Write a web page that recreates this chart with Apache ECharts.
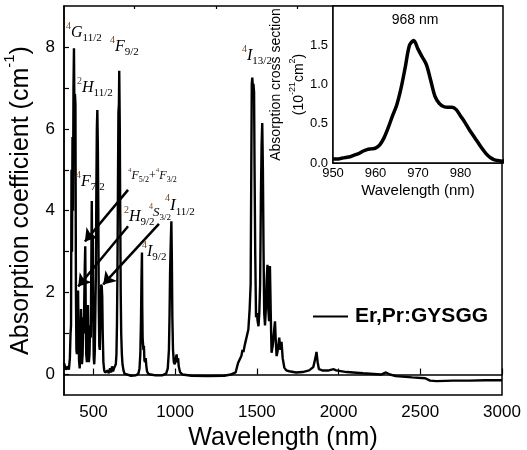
<!DOCTYPE html>
<html>
<head>
<meta charset="utf-8">
<script src="https://cdn.jsdelivr.net/npm/echarts@6/dist/echarts.min.js"></script>
<style>
html, body { margin: 0; padding: 0; background: #fff; }
#chart { width: 527px; height: 450px; }
</style>
</head>
<body>
<div id="chart"></div>
<script>
// main spectrum: [wavelength (nm), absorption coefficient (cm-1)]
const spectrum = [
    [320, 0.28], [326, 0.25], [332, 0.12], [338, 0.1], [344, 0.2], [350, 0.12], [356, 0.4], [360, 1.0],
    [363, 1.2], [366, 5.0], [369, 3.0], [372, 5.8], [375, 4.0], [378, 7.0], [381, 7.97], [384, 6.2],
    [387, 6.85], [390, 6.6], [393, 2.0], [396, 0.6], [399, 0.5], [403, 1.4], [406, 2.05], [409, 1.1],
    [412, 0.35], [416, 0.15], [420, 0.5], [424, 1.6], [427, 0.9], [430, 0.25], [434, 0.5], [438, 1.4],
    [441, 1.0], [444, 1.8], [447, 2.6], [450, 3.13], [453, 1.6], [456, 0.5], [460, 0.3], [463, 1.1],
    [466, 1.7], [469, 0.8], [472, 0.3], [476, 0.5], [480, 1.2], [484, 0.9], [487, 2.6], [490, 4.24],
    [493, 2.5], [496, 3.4], [499, 1.5], [502, 0.4], [505, 0.25], [508, 0.5], [512, 1.6], [515, 2.4],
    [518, 4.5], [521, 6.0], [524, 6.46], [527, 5.6], [530, 4.0], [533, 1.6], [536, 0.7], [539, 0.6],
    [542, 1.2], [545, 1.7], [548, 2.2], [551, 2.15], [554, 1.9], [557, 1.0], [561, 0.3], [566, 0.1],
    [572, 0.05], [580, 0.03], [588, 0.1], [594, 0.03], [602, 0.15], [608, 0.05], [614, 0.2], [620, 0.08],
    [626, 0.15], [632, 0.12], [637, 0.25], [641, 0.5], [644, 1.2], [647, 2.5], [650, 4.5], [653, 6.4],
    [656, 6.6], [658, 7.42], [661, 6.2], [664, 4.0], [667, 2.0], [670, 1.0], [674, 0.5], [678, 0.25],
    [684, 0.1], [690, 0.02], [700, -0.02], [730, -0.03], [760, -0.02], [775, 0.02], [782, 0.15],
    [787, 0.5], [791, 1.3], [794, 2.3], [797, 2.98], [799, 1.6], [801, 0.9], [803, 0.78], [806, 0.6],
    [809, 0.7], [812, 0.35], [816, 0.3], [820, 0.4], [824, 0.2], [828, 0.08], [835, 0.02], [850, 0.0],
    [880, -0.02], [920, -0.02], [945, 0.02], [955, 0.15], [962, 0.6], [966, 1.5], [969, 2.48],
    [973, 3.2], [977, 3.74], [980, 2.8], [983, 1.4], [987, 0.6], [992, 0.3], [998, 0.25], [1004, 0.4],
    [1009, 0.49], [1013, 0.3], [1018, 0.4], [1022, 0.2], [1030, 0.06], [1045, 0.0], [1100, -0.03],
    [1200, -0.04], [1300, -0.03], [1340, 0.0], [1370, 0.05], [1385, 0.28], [1395, 0.3], [1405, 0.45],
    [1412, 0.6], [1418, 0.55], [1425, 0.7], [1436, 0.7], [1448, 1.1], [1456, 1.6], [1462, 2.2],
    [1466, 5.0], [1469, 7.1], [1472, 7.25], [1476, 7.0], [1479, 7.1], [1483, 6.9], [1486, 5.0],
    [1490, 3.0], [1495, 1.4], [1500, 1.5], [1505, 1.3], [1510, 1.18], [1515, 1.5], [1520, 2.2],
    [1525, 4.4], [1529, 5.6], [1533, 6.14], [1537, 5.0], [1541, 3.0], [1545, 1.5], [1550, 1.2],
    [1555, 1.6], [1560, 2.3], [1565, 2.68], [1570, 1.6], [1575, 1.3], [1580, 2.65], [1585, 1.5],
    [1590, 0.53], [1597, 0.7], [1604, 1.0], [1611, 1.3], [1616, 0.8], [1621, 0.45], [1628, 0.6],
    [1637, 0.9], [1644, 0.6], [1651, 0.8], [1658, 0.4], [1668, 0.17], [1680, 0.1], [1698, 0.08],
    [1740, 0.05], [1780, 0.06], [1820, 0.1], [1845, 0.18], [1858, 0.4], [1865, 0.55], [1872, 0.3],
    [1880, 0.13], [1900, 0.1], [1940, 0.1], [1970, 0.13], [1985, 0.1], [2050, 0.06], [2150, 0.03],
    [2260, 0.0], [2290, 0.05], [2300, 0.07], [2315, 0.0], [2350, -0.04], [2450, -0.07], [2530, -0.09],
    [2560, -0.15], [2600, -0.16], [2700, -0.15], [2800, -0.15], [2900, -0.14], [3000, -0.14]
];

// inset: absorption cross section around 968 nm
const insetWl = [950, 951, 952, 953, 954, 955, 956, 957, 958, 959, 960, 961, 962, 963, 964, 965, 966,
    967, 968, 969, 970, 971, 972, 973, 974, 975, 976, 977, 978, 979, 980, 981, 982, 983, 984, 985,
    986, 987, 988, 989, 990];
const insetCs = [0.05, 0.05, 0.06, 0.07, 0.08, 0.10, 0.12, 0.15, 0.17, 0.18, 0.19, 0.23, 0.32, 0.45,
    0.60, 0.74, 0.95, 1.22, 1.50, 1.56, 1.45, 1.35, 1.25, 1.05, 0.85, 0.76, 0.72, 0.71, 0.71, 0.68,
    0.60, 0.52, 0.43, 0.35, 0.27, 0.19, 0.12, 0.07, 0.04, 0.03, 0.02];

const xLabels = [500, 1000, 1500, 2000, 2500, 3000];
const xMinor = [750, 1250, 1750, 2250, 2750];
const yLabels = [0, 2, 4, 6, 8];
const yTicks = [0, 1, 2, 3, 4, 5, 6, 7, 8];
const insetYLabels = [0, 0.5, 1, 1.5];

// arrows from level labels to peaks, [from, to] in data units
const arrows = [
    [[712, 4.51], [448, 3.25]],
    [[712, 3.62], [407, 2.15]],
    [[901, 3.68], [560, 2.2]]
];

const sans = 'Liberation Sans, Arial, sans-serif';
const serif = '"Liberation Serif", "Times New Roman", serif';
const brown = '#6e4426';

let chart = echarts.init(document.getElementById('chart'));

// term symbol label: sup, letter, sub ; a part '+' is drawn plain
function level(x, y, parts, size) {
    let s = size || 16;
    let lh = Math.round(s * 1.45);
    let text = parts.map(function (p) {
        if (p === '+') return '{n|+}';
        return '{p|' + p[0] + '}{m|' + p[1] + '}{b|' + p[2] + '}';
    }).join('');
    return {
        type: 'text', x: x, y: y, z: 100,
        style: {
            text: text,
            verticalAlign: 'top',
            align: 'left',
            rich: {
                p: { font: Math.round(s * 0.6) + 'px ' + serif, fill: brown, verticalAlign: 'top', lineHeight: lh },
                m: { font: 'italic ' + s + 'px ' + serif, fill: '#000', verticalAlign: 'middle', lineHeight: lh },
                b: { font: Math.round(s * 0.66) + 'px ' + serif, fill: '#000', verticalAlign: 'bottom', lineHeight: lh },
                n: { font: s + 'px ' + serif, fill: '#000', verticalAlign: 'middle', lineHeight: lh }
            }
        }
    };
}

let option = {
    animation: false,
    backgroundColor: '#fff',
    grid: [
        { left: 64, top: 6, right: 25, bottom: 55, outerBoundsMode: 'none', containLabel: false, show: true, borderColor: '#000', borderWidth: 1.5 },
        { left: 333, top: 6, right: 24, bottom: 287, outerBoundsMode: 'none', containLabel: false, show: true, borderColor: '#000', borderWidth: 1.5, backgroundColor: '#fff', z: 5 }
    ],
    legend: {
        data: [{ name: 'Er,Pr:GYSGG', icon: 'rect' }],
        left: 313, top: 306, padding: 0,
        itemWidth: 35, itemHeight: 2,
        textStyle: { fontFamily: sans, fontSize: 21, fontWeight: 'bold', color: '#000', padding: [0, 0, 0, 2] }
    },
    xAxis: [
        {
            type: 'value', gridIndex: 0, min: 320, max: 3000,
            name: 'Wavelength (nm)', nameLocation: 'middle', nameGap: 28,
            nameTextStyle: { fontFamily: sans, fontSize: 25, color: '#000' },
            axisLine: { lineStyle: { color: '#000', width: 1.5 } },
            axisTick: { inside: true, length: 6, customValues: xLabels, lineStyle: { color: '#000', width: 1.2 } },
            axisLabel: {
                customValues: xLabels, margin: 9, fontFamily: sans, fontSize: 17, color: '#000',
                formatter: function (v) { return String(v); }
            },
            splitLine: { show: false }
        },
        {
            type: 'value', gridIndex: 0, min: 320, max: 3000,
            axisLine: { show: false },
            axisTick: { inside: true, length: 3, customValues: xMinor, lineStyle: { color: '#000', width: 1.2 } },
            axisLabel: { show: false },
            splitLine: { show: false }
        },
        {
            type: 'value', gridIndex: 1, min: 950, max: 990, interval: 10,
            name: 'Wavelength (nm)', nameLocation: 'middle', nameGap: 20,
            nameTextStyle: { fontFamily: sans, fontSize: 15, color: '#000' },
            axisLine: { lineStyle: { color: '#000', width: 1.5 } },
            axisTick: { inside: true, length: 4, lineStyle: { color: '#000' } },
            axisLabel: {
                margin: 4, fontFamily: sans, fontSize: 13, color: '#000',
                formatter: function (v) { return v === 990 ? '' : String(v); }
            },
            splitLine: { show: false }
        }
    ],
    yAxis: [
        {
            type: 'value', gridIndex: 0, min: -0.5, max: 9,
            name: '{a|Absorption coefficient (cm}{s|-1}{a|)}', nameLocation: 'middle', nameGap: 30,
            nameTextStyle: {
                rich: {
                    a: { fontFamily: sans, fontSize: 25, color: '#000', verticalAlign: 'bottom', lineHeight: 32 },
                    s: { fontFamily: sans, fontSize: 15, color: '#000', verticalAlign: 'top', lineHeight: 32 }
                }
            },
            axisLine: { lineStyle: { color: '#000', width: 1.5 } },
            axisTick: { inside: true, length: 5, customValues: yTicks, lineStyle: { color: '#000', width: 1.2 } },
            axisLabel: { customValues: yLabels, margin: 9, fontFamily: sans, fontSize: 17, color: '#000' },
            splitLine: { show: false }
        },
        {
            type: 'value', gridIndex: 1, min: 0, max: 2,
            name: '{a|Absorption cross section}\n{c|(10}{s|-21}{c|cm}{s|2}{c|)}',
            nameLocation: 'middle', nameGap: 22,
            nameTextStyle: {
                rich: {
                    a: { fontFamily: sans, fontSize: 14, color: '#000', verticalAlign: 'middle', lineHeight: 24 },
                    c: { fontFamily: sans, fontSize: 14, color: '#000', verticalAlign: 'bottom', lineHeight: 18 },
                    s: { fontFamily: sans, fontSize: 9, color: '#000', verticalAlign: 'top', lineHeight: 18 }
                }
            },
            axisLine: { lineStyle: { color: '#000', width: 1.5 } },
            axisTick: { inside: true, length: 4, customValues: [0, 0.5, 1, 1.5], lineStyle: { color: '#000' } },
            axisLabel: {
                customValues: insetYLabels, margin: 5, fontFamily: sans, fontSize: 13, color: '#000',
                formatter: function (v) { return v.toFixed(1); }
            },
            splitLine: { show: false }
        }
    ],
    series: [
        {
            name: 'Er,Pr:GYSGG',
            type: 'line',
            xAxisIndex: 0, yAxisIndex: 0,
            data: spectrum,
            symbol: 'none',
            lineStyle: { color: '#000', width: 2.4 },
            itemStyle: { color: '#000' },
            markLine: {
                silent: true,
                symbol: ['none', 'arrow'],
                symbolSize: 12,
                label: { show: false },
                lineStyle: { color: '#000', width: 2.5, type: 'solid' },
                data: arrows.map(function (a) {
                    return [{ coord: a[0] }, { coord: a[1] }];
                })
            }
        },
        {
            name: 'inset',
            type: 'line',
            xAxisIndex: 2, yAxisIndex: 1,
            data: insetWl.map(function (w, i) { return [w, insetCs[i]]; }),
            symbol: 'none',
            smooth: 0.3,
            lineStyle: { color: '#000', width: 3.5 },
            z: 10
        }
    ],
    graphic: [
        {
            type: 'text', x: 415, y: 20, z: 100,
            style: { text: '968 nm', fontFamily: sans, fontSize: 14, fill: '#000', align: 'center', verticalAlign: 'middle' }
        },
        level(66, 21, [['4', 'G', '11/2']]),
        level(77, 76, [['2', 'H', '11/2']]),
        level(110, 35, [['4', 'F', '9/2']]),
        level(76, 170, [['4', 'F', '7/2']]),
        level(128, 167, [['4', 'F', '5/2'], '+', ['4', 'F', '3/2']], 12),
        level(124, 205, [['2', 'H', '9/2']]),
        level(149, 203, [['4', 'S', '3/2']], 13),
        level(165, 193, [['4', 'I', '11/2']], 17),
        level(142, 240, [['4', 'I', '9/2']]),
        level(242, 44, [['4', 'I', '13/2']])
    ]
};

chart.setOption(option);
</script>
</body>
</html>
